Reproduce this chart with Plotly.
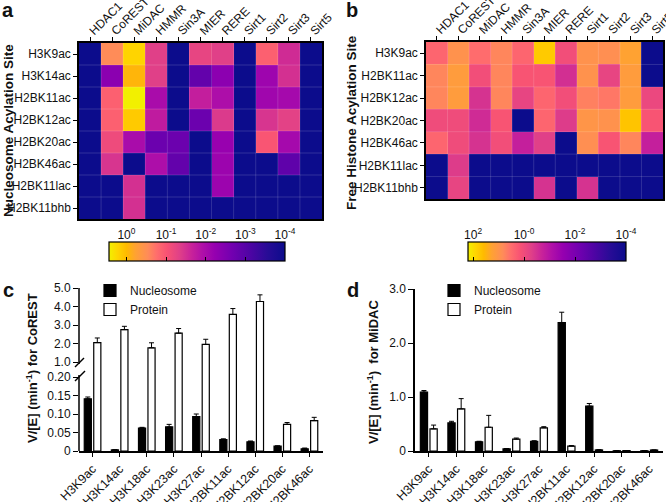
import plotly.graph_objects as go

W, H = 666, 502
def px(x): return x / W
def py(y): return 1 - y / H

FONT = "Liberation Sans, Arial, sans-serif"

# ---------------- data ----------------
enzymes = ['HDAC1', 'CoREST', 'MiDAC', 'HMMR', 'Sin3A', 'MIER', 'RERE', 'Sirt1', 'Sirt2', 'Sirt3', 'Sirt5']
nuc_sites = ['H3K9ac', 'H3K14ac', 'H2BK11ac', 'H2BK12ac', 'H2BK20ac', 'H2BK46ac', 'H2BK11lac', 'H2BK11bhb']
free_sites = ['H3K9ac', 'H2BK11ac', 'H2BK12ac', 'H2BK20ac', 'H2BK46ac', 'H2BK11lac', 'H2BK11bhb']
ND = -5.0  # below detection (log10)

# log10 of activity, nucleosome substrates (panel a)
nuc_log10 = [
    [ND, -0.54, 0.22, -1.34, ND, -1.25, -1.34, ND, -0.89, -1.55, ND],
    [ND, -2.36, -0.05, -1.34, ND, -2.85, -2.35, ND, -2.13, -1.50, ND],
    [ND, -0.89, 0.44, -2.00, ND, -1.70, -1.95, ND, -2.10, -2.05, ND],
    [ND, -0.89, 0.13, -1.75, ND, -2.75, -1.40, ND, -1.45, -1.30, ND],
    [ND, -1.15, -2.00, -2.75, -2.75, ND, -2.20, ND, -1.00, -2.05, ND],
    [ND, -1.45, ND, -1.95, -2.85, ND, -2.15, ND, ND, -2.90, ND],
    [ND, ND, -1.50, ND, ND, ND, -2.15, ND, ND, ND, ND],
    [ND, ND, -1.50, ND, ND, ND, ND, ND, ND, ND, ND],
]
# log10 of activity, free histone substrates (panel b)
free_log10 = [
    [0.40, 0.96, 0.50, 0.77, 0.40, 1.77, 0.05, 0.96, 0.90, 1.27, ND],
    [0.77, 1.15, 0.05, 0.77, 0.18, 0.18, -0.53, 0.96, -0.16, 1.15, ND],
    [0.77, 1.15, -0.47, 0.77, -0.16, 0.40, 0.05, 0.71, 0.62, 1.15, -0.09],
    [0.00, 0.00, -0.59, 0.18, ND, 0.40, -0.34, 1.02, 0.96, 1.70, 0.18],
    [0.40, 0.00, -0.47, 0.05, -0.78, -0.28, ND, 0.90, 0.18, 0.77, -0.78],
    [ND, -0.34, ND, ND, ND, ND, ND, ND, ND, ND, ND],
    [ND, -0.16, ND, ND, ND, -0.47, ND, -0.47, ND, ND, ND],
]
cb_a_vals = [0, 1, 2, 3, 4]
cb_a_text = ['10<sup>0</sup>', '10<sup>-1</sup>', '10<sup>-2</sup>', '10<sup>-3</sup>', '10<sup>-4</sup>']
cb_b_vals = [-2, 0, 2, 4]
cb_b_text = ['10<sup>2</sup>', '10<sup>-0</sup>', '10<sup>-2</sup>', '10<sup>-4</sup>']

bar_sites = ['H3K9ac', 'H3K14ac', 'H3K18ac', 'H3K23ac', 'H3K27ac', 'H2BK11ac', 'H2BK12ac', 'H2BK20ac', 'H2BK46ac']
corest_nuc = [0.141, 0.003, 0.062, 0.065, 0.093, 0.031, 0.025, 0.013, 0.006]
corest_nuc_err = [0.005, 0.0005, 0.002, 0.007, 0.007, 0.002, 0.002, 0.001, 0.002]
corest_pro = [2.05, 2.75, 1.77, 2.56, 1.95, 3.57, 4.27, 0.072, 0.082]
corest_pro_err = [0.25, 0.18, 0.27, 0.25, 0.28, 0.32, 0.36, 0.005, 0.009]
midac_nuc = [1.09, 0.52, 0.17, 0.04, 0.18, 2.38, 0.83, 0.004, 0.004]
midac_nuc_err = [0.03, 0.03, 0.01, 0.005, 0.01, 0.19, 0.05, 0.0, 0.0]
midac_pro = [0.41, 0.78, 0.44, 0.22, 0.43, 0.09, 0.02, 0.008, 0.018]
midac_pro_err = [0.07, 0.19, 0.22, 0.02, 0.02, 0.01, 0.004, 0.0, 0.0]

# ---------------- styling ----------------
cscale = [
    [0.00, '#F2F000'], [0.05, '#FFD400'], [0.10, '#FFBA00'], [0.15, '#FFA232'],
    [0.22, '#FF8C58'], [0.27, '#FF6E6C'], [0.33, '#F85274'], [0.40, '#E04088'],
    [0.47, '#C8229A'], [0.53, '#B010A8'], [0.60, '#9600B0'], [0.70, '#7200B0'],
    [0.80, '#4E04A4'], [0.90, '#280C96'], [1.00, '#0C0C8C'],
]

fig = go.Figure()

def neg(rows):
    return [[-v for v in r] for r in rows]

fig.add_trace(go.Heatmap(
    x=enzymes, y=nuc_sites, z=neg(nuc_log10), xaxis='x', yaxis='y',
    zmin=-0.44, zmax=4, colorscale=cscale, showscale=True,
    colorbar=dict(orientation='h', x=px(197), xanchor='center', len=176 / W, lenmode='fraction',
                  y=py(242), yanchor='top', thickness=19, thicknessmode='pixels', xpad=0, ypad=0,
                  outlinewidth=1.2, outlinecolor='black', tickmode='array', tickvals=cb_a_vals,
                  ticks='inside', ticklen=4, tickcolor='black', showticklabels=False),
    hoverinfo='skip'))

fig.add_trace(go.Heatmap(
    x=enzymes, y=free_sites, z=neg(free_log10), xaxis='x2', yaxis='y2',
    zmin=-2.2, zmax=4, colorscale=cscale, showscale=True,
    colorbar=dict(orientation='h', x=px(547), xanchor='center', len=158 / W, lenmode='fraction',
                  y=py(242), yanchor='top', thickness=19, thicknessmode='pixels', xpad=0, ypad=0,
                  outlinewidth=1.2, outlinecolor='black', tickmode='array', tickvals=cb_b_vals,
                  ticks='inside', ticklen=4, tickcolor='black', showticklabels=False),
    hoverinfo='skip'))

# empty traces so the colour-bar label axes get drawn
for xa, ya in (('x6', 'y6'), ('x7', 'y7')):
    fig.add_trace(go.Scatter(x=[], y=[], xaxis=xa, yaxis=ya, showlegend=False, hoverinfo='skip'))

def bars(x, y, err, color, name, xa, ya, legend, showlegend):
    return go.Bar(
        x=x, y=y, name=name, xaxis=xa, yaxis=ya, legend=legend, showlegend=showlegend,
        marker=dict(color=color, line=dict(color='black', width=1.2)),
        error_y=dict(type='data', symmetric=False, array=err, arrayminus=[0] * len(err),
                     color='black', thickness=1, width=2.5),
        hoverinfo='skip')

# panel c lower and upper
fig.add_trace(bars(bar_sites, corest_nuc, corest_nuc_err, 'black', 'Nucleosome', 'x3', 'y3', 'legend', True))
fig.add_trace(bars(bar_sites, corest_pro, corest_pro_err, 'white', 'Protein', 'x3', 'y3', 'legend', True))
fig.add_trace(bars(bar_sites, corest_nuc, corest_nuc_err, 'black', 'Nucleosome', 'x4', 'y4', 'legend', False))
fig.add_trace(bars(bar_sites, corest_pro, corest_pro_err, 'white', 'Protein', 'x4', 'y4', 'legend', False))
# panel d
fig.add_trace(bars(bar_sites, midac_nuc, midac_nuc_err, 'black', 'Nucleosome', 'x5', 'y5', 'legend2', True))
fig.add_trace(bars(bar_sites, midac_pro, midac_pro_err, 'white', 'Protein', 'x5', 'y5', 'legend2', True))

tickf = dict(family=FONT, size=12, color='#111')
hm_x = dict(side='top', tickangle=-45, ticks='outside', ticklen=4, tickwidth=1.2, tickcolor='black',
            showline=True, mirror=True, linecolor='black', linewidth=1.5, showgrid=False,
            zeroline=False, tickfont=dict(family=FONT, size=12, color='#111'),
            ticklabelstandoff=-5)
hm_y = dict(autorange='reversed', ticks='outside', ticklen=4, tickwidth=1.2, tickcolor='black',
            showline=True, mirror=True, linecolor='black', linewidth=1.5, showgrid=False,
            zeroline=False, tickfont=dict(family=FONT, size=12, color='#111'))
bar_x = dict(tickangle=-45, ticks='outside', ticklen=4, tickwidth=1.2, tickcolor='black',
             showline=True, linecolor='black', linewidth=1.5, showgrid=False, zeroline=False,
             tickfont=dict(family=FONT, size=12.5, color='#111'))
bar_y = dict(ticks='outside', ticklen=5, tickwidth=1.2, tickcolor='black', showgrid=False,
             zeroline=False, tickfont=tickf)

fig.update_layout(
    width=W, height=H, margin=dict(l=0, r=0, t=0, b=0, autoexpand=False), template='none',
    paper_bgcolor='white', plot_bgcolor='rgba(0,0,0,0)',
    font=dict(family=FONT, size=12, color='#111'),
    barmode='group', bargap=0.3, bargroupgap=0.25,
    xaxis=dict(domain=[px(79), px(322)], anchor='y', **hm_x),
    yaxis=dict(domain=[py(219), py(43)], anchor='x', **hm_y),
    xaxis2=dict(domain=[px(426), px(663)], anchor='y2', **hm_x),
    yaxis2=dict(domain=[py(199), py(42)], anchor='x2', **hm_y),
    xaxis3=dict(domain=[px(79), px(323)], anchor='y3', **bar_x),
    yaxis3=dict(domain=[py(451), py(370)], anchor='x3', range=[0, 0.219], showline=False,
                tickmode='array', tickvals=[0, 0.05, 0.10, 0.15, 0.20],
                ticktext=['0', '0.05', '0.10', '0.15', '0.20'], **bar_y),
    xaxis4=dict(domain=[px(79), px(323)], anchor='y4', matches='x3', visible=False),
    yaxis4=dict(domain=[py(370), py(288)], anchor='x4', range=[0.57, 5.0], showline=False,
                tickmode='array', tickvals=[1, 2, 3, 4, 5],
                ticktext=['1.0', '2.0', '3.0', '4.0', '5.0'], **bar_y),
    xaxis5=dict(domain=[px(415), px(663)], anchor='y5', **bar_x),
    yaxis5=dict(domain=[py(451), py(289)], anchor='x5', range=[0, 3.0], showline=True,
                linecolor='black', linewidth=1.5, tickmode='array', tickvals=[0, 1, 2, 3],
                ticktext=['0', '1.0', '2.0', '3.0'], **bar_y),
    # label axes above the colour bars
    xaxis6=dict(domain=[px(109), px(285)], anchor='y6', side='top', range=[-0.44, 4],
                tickmode='array', tickvals=cb_a_vals, ticktext=cb_a_text, ticks='',
                showline=False, showgrid=False, zeroline=False, tickfont=tickf),
    yaxis6=dict(domain=[py(261), py(242)], anchor='x6', range=[0, 1], visible=False),
    xaxis7=dict(domain=[px(468), px(626)], anchor='y7', side='top', range=[-2.2, 4],
                tickmode='array', tickvals=cb_b_vals, ticktext=cb_b_text, ticks='',
                showline=False, showgrid=False, zeroline=False, tickfont=tickf),
    yaxis7=dict(domain=[py(261), py(242)], anchor='x7', range=[0, 1], visible=False),
    legend=dict(x=px(90), y=py(276), xanchor='left', yanchor='top', bgcolor='rgba(0,0,0,0)',
                font=dict(family=FONT, size=12, color='#111'), tracegroupgap=0,
                itemwidth=30),
    legend2=dict(x=px(434), y=py(276), xanchor='left', yanchor='top', bgcolor='rgba(0,0,0,0)',
                 font=dict(family=FONT, size=12, color='#111'), tracegroupgap=0,
                 itemwidth=30),
)

shapes = []
# faint cell borders on heatmaps
for xa, ya, ncol, nrow in (('x', 'y', len(enzymes), len(nuc_sites)),
                           ('x2', 'y2', len(enzymes), len(free_sites))):
    for i in range(1, ncol):
        shapes.append(dict(type='line', xref=xa, yref=ya + ' domain', x0=i - 0.5, x1=i - 0.5,
                           y0=0, y1=1, line=dict(color='rgba(255,255,255,0.15)', width=1),
                           layer='above'))
    for j in range(1, nrow):
        shapes.append(dict(type='line', xref=xa + ' domain', yref=ya, y0=j - 0.5, y1=j - 0.5,
                           x0=0, x1=1, line=dict(color='rgba(255,255,255,0.15)', width=1),
                           layer='above'))
# broken y axis for panel c
axl = dict(color='black', width=1.5)
shapes.append(dict(type='line', xref='paper', yref='paper', x0=px(79), x1=px(79),
                   y0=py(451), y1=py(375), line=axl))
shapes.append(dict(type='line', xref='paper', yref='paper', x0=px(79), x1=px(79),
                   y0=py(364), y1=py(288), line=axl))
shapes.append(dict(type='line', xref='paper', yref='paper', x0=px(75), x1=px(84),
                   y0=py(367), y1=py(358), line=axl))
shapes.append(dict(type='line', xref='paper', yref='paper', x0=px(75), x1=px(85),
                   y0=py(381), y1=py(371), line=axl))
fig.update_layout(shapes=shapes)

ann = []
def letter(t, x, y):
    ann.append(dict(text='<b>%s</b>' % t, x=px(x), y=py(y), xref='paper', yref='paper',
                    showarrow=False, xanchor='center', yanchor='middle',
                    font=dict(family=FONT, size=20, color='#111')))
letter('a', 8, 10)
letter('b', 352, 10)
letter('c', 8, 290)
letter('d', 353, 290)

def vtitle(t, x, y, size):
    ann.append(dict(text='<b>%s</b>' % t, x=px(x), y=py(y), xref='paper', yref='paper',
                    showarrow=False, textangle=-90, xanchor='center', yanchor='middle',
                    font=dict(family=FONT, size=size, color='#111')))
vtitle('Nucleosome Acylation Site', 8, 131, 13.5)
vtitle('Free Histone Acylation Site', 351, 122, 13.5)
vtitle('V/[E] (min<sup>-1</sup>) for CoREST', 32, 368, 13)
vtitle('V/[E] (min<sup>-1</sup>)  for MiDAC', 373, 372, 13)
fig.update_layout(annotations=ann)

fig.write_html("out.html", config={'displayModeBar': False},
               post_script="document.body.style.margin='0';document.body.style.padding='0';")
